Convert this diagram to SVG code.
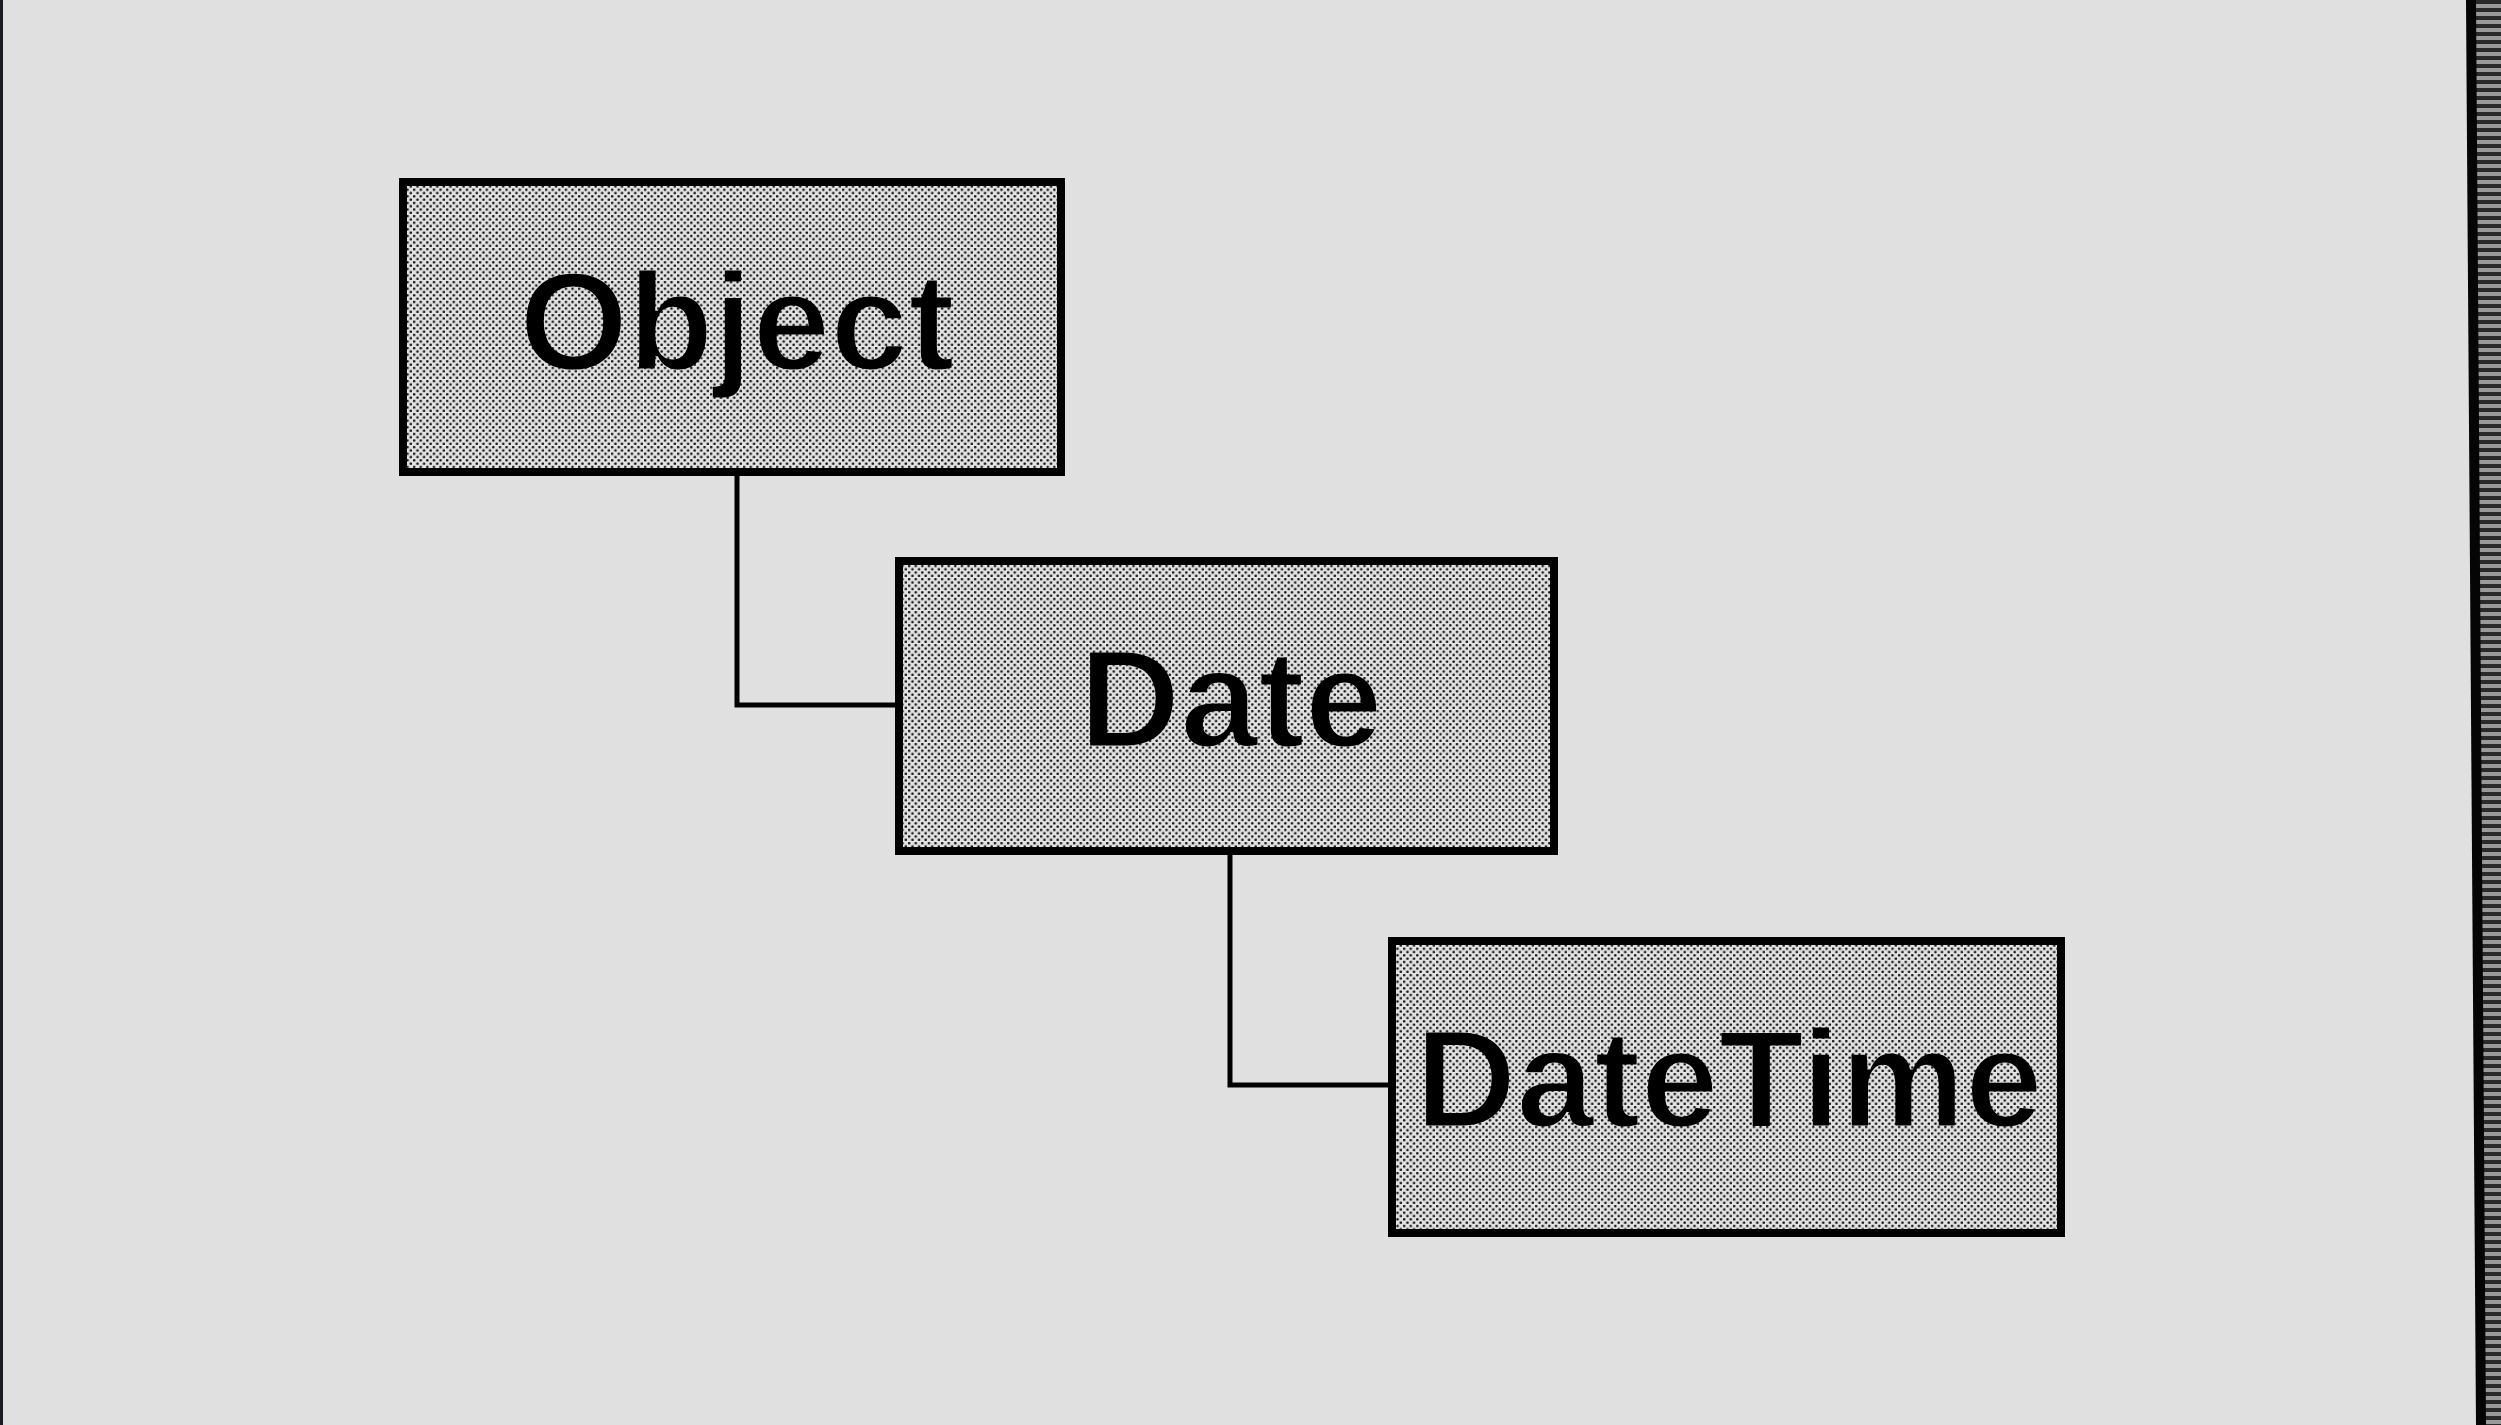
<svg xmlns="http://www.w3.org/2000/svg" width="2501" height="1425" viewBox="0 0 2501 1425">
  <defs>
    <pattern id="dots" width="6.6" height="6.6" patternUnits="userSpaceOnUse">
      <rect width="6.6" height="6.6" fill="#e2e2e2"/>
      <rect x="0.4" y="0.4" width="2.5" height="2.5" rx="0.9" fill="#111"/>
      <rect x="3.7" y="3.7" width="2.5" height="2.5" rx="0.9" fill="#111"/>
    </pattern>
    <pattern id="stripes" width="6" height="8" patternUnits="userSpaceOnUse">
      <rect width="6" height="8" fill="#9a9a9a"/>
      <rect y="0" width="6" height="4" fill="#2a2a2a"/>
    </pattern>
    <style>
      .box { fill: url(#dots); stroke: #000; stroke-width: 8; }
      .lbl { font-family: "Liberation Sans", Arial, Helvetica, sans-serif; font-weight: bold; font-size: 140px; fill: #000; text-anchor: middle; stroke: url(#dots); stroke-width: 3; }
      .conn { fill: none; stroke: #000; stroke-width: 5; }
    </style>
  </defs>
  <rect width="2501" height="1425" fill="#e0e0e0"/>
  <rect x="0" y="0" width="3" height="1425" fill="#1c1c28"/>
  <polygon points="2467,0 2501,0 2501,1425 2477,1425" fill="url(#stripes)"/>
  <polygon points="2466,0 2476,0 2486,1425 2476,1425" fill="#050505"/>

  <g id="connectors">
    <polyline class="conn" points="737,474 737,705 896,705"/>
    <polyline class="conn" points="1230,853 1230,1085 1389,1085"/>
  </g>

  <g id="node-object">
    <rect class="box" x="403" y="182" width="658" height="290"/>
    <text class="lbl" x="737" y="370">Object</text>
  </g>
  <g id="node-date">
    <rect class="box" x="899" y="561" width="655" height="290"/>
    <text class="lbl" x="1231" y="747">Date</text>
  </g>
  <g id="node-datetime">
    <rect class="box" x="1392" y="941" width="669" height="292"/>
    <text class="lbl" x="1729" y="1127">DateTime</text>
  </g>
</svg>
